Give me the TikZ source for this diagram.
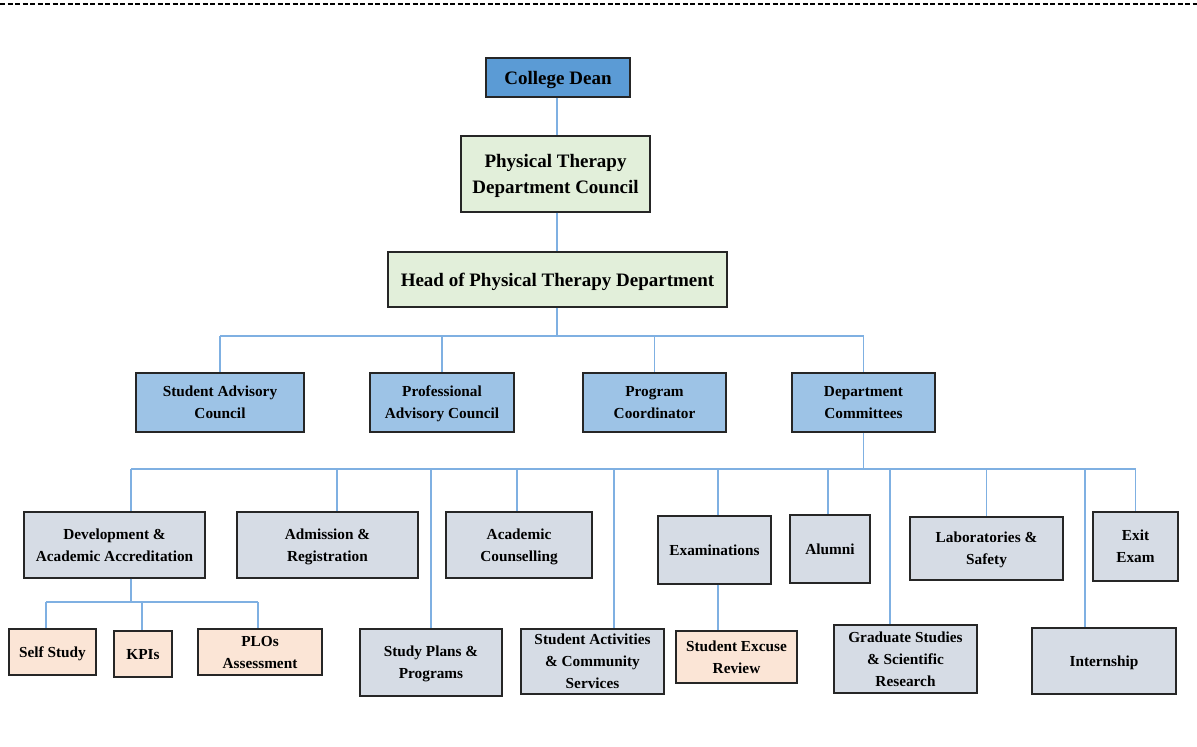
\documentclass[tikz,border=0pt]{standalone}
\usepackage{fontspec}
\setmainfont{Liberation Serif}
\definecolor{deanblue}{RGB}{91,155,213}
\definecolor{lgreen}{RGB}{226,239,218}
\definecolor{midblue}{RGB}{157,195,230}
\definecolor{greyblue}{RGB}{214,220,229}
\definecolor{peach}{RGB}{251,229,214}
\definecolor{connblue}{RGB}{127,176,226}
\begin{document}
\begin{tikzpicture}[x=1pt,y=-1pt,
  box/.style={draw=black!85,line width=1.3pt,inner sep=0pt,align=center,text depth=0pt,font=\bfseries\fontsize{15.3}{22}\selectfont},
  topbox/.style={box,font=\bfseries\fontsize{19}{26}\selectfont},
  deanbox/.style={topbox,fill=deanblue},
  greenbox/.style={topbox,fill=lgreen},
  bluebox/.style={box,fill=midblue},
  greybox/.style={box,fill=greyblue},
  peachbox/.style={box,fill=peach},
  sz/.style 2 args={minimum width=#1pt,minimum height=#2pt},
  conn/.style={draw=connblue,line width=1.6pt}]
\useasboundingbox (0,0) rectangle (1197,747);
\draw[line width=2.2pt,dash pattern=on 5pt off 2.5pt] (0,4) -- (1197,4);
% top
\node[deanbox,sz={144}{39}] (dean) at (558,77.5) {College Dean};
\node[greenbox,sz={189}{76}] (council) at (555.5,174) {Physical Therapy\\Department Council};
\node[greenbox,sz={339}{55}] (head) at (557.5,279.5) {Head of Physical Therapy Department};
% level 2
\node[bluebox,sz={168}{59}] (sac) at (220,402.5) {Student Advisory\\Council};
\node[bluebox,sz={144}{59}] (pac) at (442,402.5) {Professional\\Advisory Council};
\node[bluebox,sz={143}{59}] (pc) at (654.5,402.5) {Program\\Coordinator};
\node[bluebox,sz={143}{59}] (dc) at (863.5,402.5) {Department\\Committees};
% level 3
\node[greybox,sz={181}{66}] (dev) at (114.5,545) {Development \&\\Academic Accreditation};
\node[greybox,sz={181}{66}] (adm) at (327.5,545) {Admission \&\\Registration};
\node[greybox,sz={146}{66}] (acc) at (519,545) {Academic\\Counselling};
\node[greybox,sz={113}{68}] (exa) at (714.5,550) {Examinations};
\node[greybox,sz={80}{68}] (alu) at (830,549) {Alumni};
\node[greybox,sz={153}{63}] (lab) at (986.5,548.5) {Laboratories \&\\Safety};
\node[greybox,sz={85}{69}] (exit) at (1135.5,546.5) {Exit\\Exam};
\node[greybox,sz={142}{67}] (spp) at (431,662.5) {Study Plans \&\\Programs};
\node[greybox,sz={143}{65}] (sac2) at (592.5,661.5) {Student Activities\\\& Community\\Services};
\node[greybox,sz={143}{68}] (grad) at (905.5,659) {Graduate Studies\\\& Scientific\\Research};
\node[greybox,sz={144}{66}] (intern) at (1104,661) {Internship};
% level 4
\node[peachbox,sz={87}{46}] (ss) at (52.5,652) {Self Study};
\node[peachbox,sz={58}{46}] (kpi) at (143,654) {KPIs};
\node[peachbox,sz={124}{46}] (plo) at (260,652) {PLOs\\Assessment};
\node[peachbox,sz={121}{52}] (ser) at (736.5,657) {Student Excuse\\Review};
% connectors
\coordinate (c0) at (557,336);
\draw[conn] (c0 |- dean.south) -- (c0 |- council.north);
\draw[conn] (c0 |- council.south) -- (c0 |- head.north);
\draw[conn] (c0 |- head.south) -- (c0);
\draw[conn] (c0 -| sac.north) -- (c0 -| dc.north);
\foreach \n in {sac,pac,pc,dc} \draw[conn] (c0 -| \n.north) -- (\n.north);
\coordinate (j2) at (863.5,469);
\draw[conn] (dc.south) -- (j2);
\coordinate (b1) at (131,469);
\coordinate (b2) at (337,469);
\coordinate (b3) at (431,469);
\coordinate (b4) at (517,469);
\coordinate (b5) at (614,469);
\coordinate (b6) at (718,469);
\coordinate (b7) at (828,469);
\coordinate (b8) at (890,469);
\coordinate (b9) at (986.5,469);
\coordinate (b10) at (1085,469);
\coordinate (b11) at (1135.5,469);
\draw[conn] (b1) -- (b11);
\draw[conn] (b1) -- (b1 |- dev.north);
\draw[conn] (b2) -- (b2 |- adm.north);
\draw[conn] (b3) -- (b3 |- spp.north);
\draw[conn] (b4) -- (b4 |- acc.north);
\draw[conn] (b5) -- (b5 |- sac2.north);
\draw[conn] (b6) -- (b6 |- exa.north);
\draw[conn] (b7) -- (b7 |- alu.north);
\draw[conn] (b8) -- (b8 |- grad.north);
\draw[conn] (b9) -- (b9 |- lab.north);
\draw[conn] (b10) -- (b10 |- intern.north);
\draw[conn] (b11) -- (b11 |- exit.north);
% dev branch
\coordinate (d0) at (131,602);
\coordinate (d1) at (46,602);
\coordinate (d2) at (142,602);
\coordinate (d3) at (258,602);
\draw[conn] (b1 |- dev.south) -- (d0);
\draw[conn] (d1) -- (d3);
\draw[conn] (d1) -- (d1 |- ss.north);
\draw[conn] (d2) -- (d2 |- kpi.north);
\draw[conn] (d3) -- (d3 |- plo.north);
% exam branch
\draw[conn] (b6 |- exa.south) -- (b6 |- ser.north);
\end{tikzpicture}
\end{document}
